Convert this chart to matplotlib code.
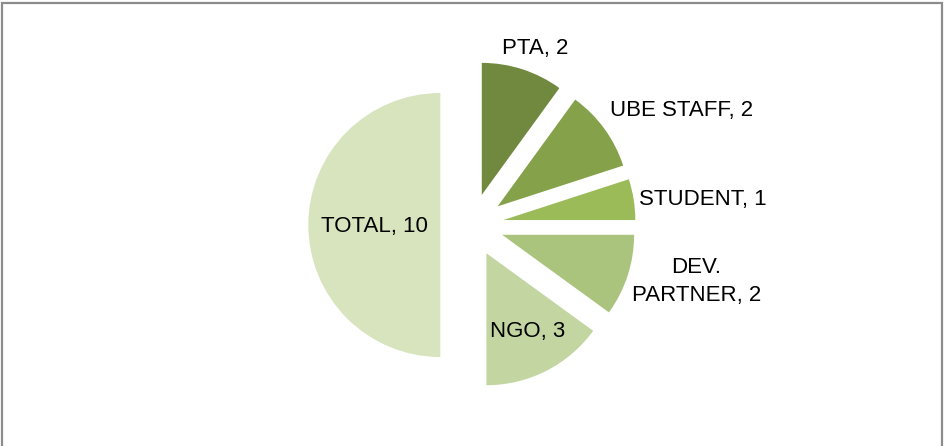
import matplotlib.pyplot as plt
import matplotlib.patches as mpatches
import numpy as np

plt.rcParams['font.family'] = ['Liberation Sans Narrow', 'Liberation Sans', 'DejaVu Sans']

# data
categories = ['PTA', 'UBE STAFF', 'STUDENT', 'DEV.\nPARTNER', 'NGO', 'TOTAL']
values = [2, 2, 1, 2, 3, 10]
colours = ['#71893f', '#85a24a', '#9bbb59', '#abc47d', '#c3d5a0', '#d7e4bd']

# label positions in pie-radius units (Excel "best fit")
label_pos = [(0.48, 1.34), (1.59, 0.87), (1.75, 0.19), (1.70, -0.43),
             (0.42, -0.81), (-0.74, -0.015)]

W, H = 945, 446
R = 132.0              # pie radius in px
cx, cy = 472.0, 225.0  # pie centre in px (from top-left)

fig = plt.figure(figsize=(W / 100, H / 100), dpi=100)
ax = fig.add_axes([0, 0, 1, 1])
ax.pie(values, colors=colours, startangle=90, counterclock=False,
       explode=[0.24] * len(values), radius=1.0,
       wedgeprops=dict(linewidth=0))
ax.set_aspect('auto')
ax.set_xlim(-cx / R, (W - cx) / R)
ax.set_ylim(-(H - cy) / R, cy / R)
ax.axis('off')

for cat, val, (x, y) in zip(categories, values, label_pos):
    ax.text(x, y, '{}, {}'.format(cat, val), ha='center', va='center',
            fontsize=16, color='black', linespacing=1.45)

# chart border (bottom edge is cropped off in the original)
fig.patches.append(mpatches.Rectangle((2.5 / W, -10 / H), (W - 5.5) / W, (H + 6.5) / H,
                                      transform=fig.transFigure, fill=False,
                                      edgecolor='#8c8c8c', linewidth=1.6))

fig.savefig('out.png', dpi=100)
